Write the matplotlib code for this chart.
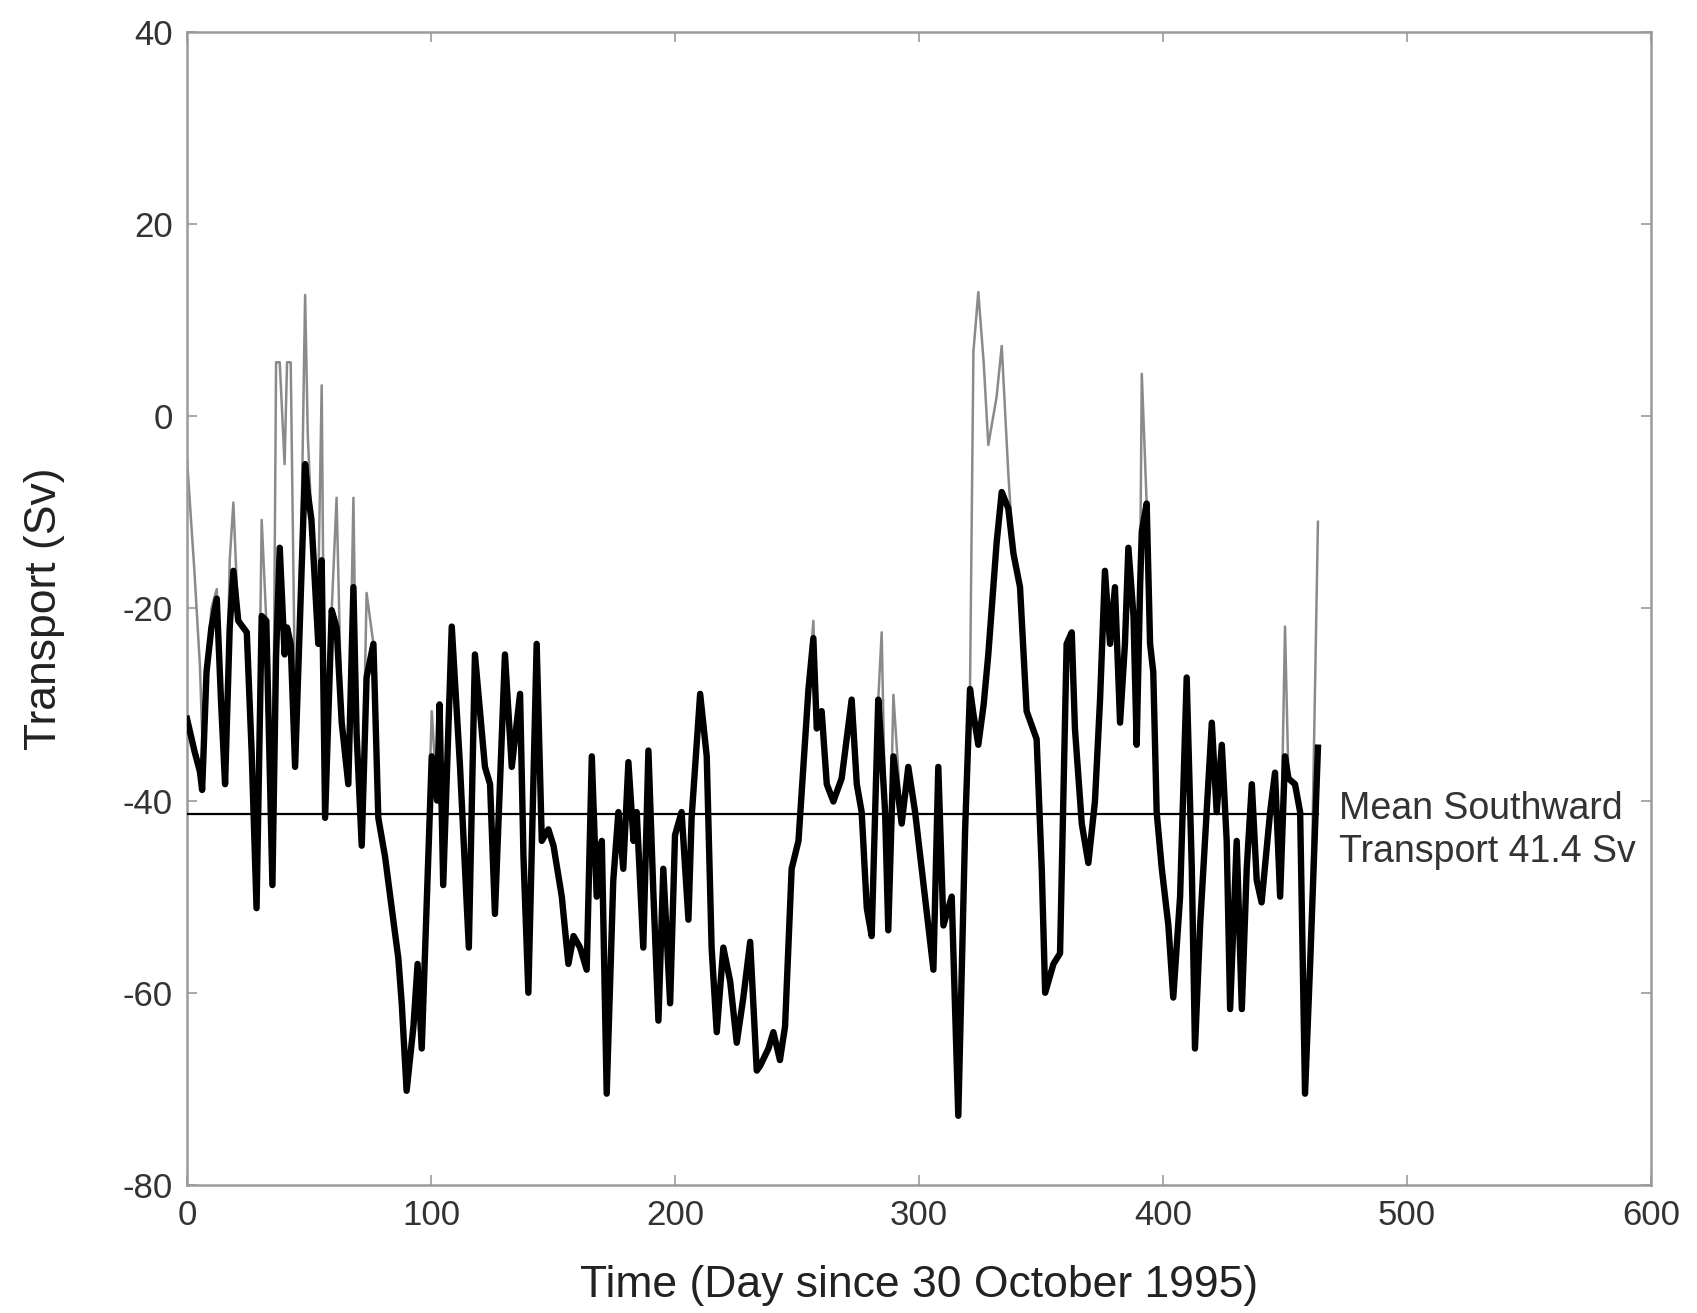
import matplotlib
matplotlib.use("Agg")
import matplotlib.pyplot as plt

plt.rcParams['font.family'] = ['Liberation Sans', 'DejaVu Sans']
plt.rcParams['axes.unicode_minus'] = False

# day since 30 October 1995
days = [
    0, 3, 5.3, 6.2, 8, 10, 12.2, 14, 15.6, 17.5,
    19, 21, 24.5, 26.5, 28.5, 30.6, 32.5, 35, 36.5, 38,
    40, 41, 42.5, 44.3, 46.3, 48.4, 49.5, 51, 53.8, 55.2,
    56.6, 59.3, 61.3, 63.4, 66.1, 68.2, 69.5, 71.6, 73.6, 76.4,
    78.4, 81.2, 83.9, 86.6, 88, 90, 92.8, 94.5, 96.2, 100.3,
    102.5, 103.5, 105, 108.5, 111.9, 115.5, 118, 122.1, 124.2, 126.2,
    130.3, 133.1, 136.5, 137.9, 139.9, 143.3, 145.4, 148.1, 150.2, 153.6,
    156.3, 158.4, 161.1, 163.8, 165.9, 167.9, 170, 172, 174.7, 176.8,
    178.8, 180.9, 183, 184.3, 187, 189.1, 191.1, 193.2, 195.2, 198,
    200, 202.7, 205.5, 206.8, 210.3, 213, 215, 217.1, 219.8, 222.6,
    225.3, 228, 230.8, 233.5, 234.9, 238.3, 240.3, 243, 245.1, 247.8,
    250.6, 252.6, 254.7, 256.7, 258.1, 260.1, 262.2, 264.9, 268.3, 272.4,
    274.5, 276.5, 278.6, 280.6, 283.3, 284.7, 286.1, 287.4, 289.5, 292.9,
    295.6, 298.4, 301.1, 303.8, 305.9, 307.9, 310, 313.4, 316.1, 318.9,
    320.9, 322.3, 324.3, 326.5, 328.4, 331.8, 333.9, 336.6, 338.7, 341.4,
    344.1, 348.2, 350.3, 351.7, 355.1, 357.8, 360.5, 362.6, 363.9, 366.7,
    369.4, 372.1, 374.2, 376.2, 378.3, 380.3, 382.4, 384.4, 385.8, 387.9,
    389.2, 390.6, 391.3, 393.3, 394.7, 396, 397.4, 399.5, 402.2, 404.2,
    407, 409.7, 411.8, 413.1, 415.2, 417.9, 420, 422, 424.1, 426.1,
    427.5, 430.2, 432.3, 434.3, 436.4, 438.4, 440.4, 443.9, 445.9, 448,
    450, 451.4, 454.1, 456.2, 458.2, 460.3, 463.5,
]

# filtered transport (Sv), thick black curve
transport_filtered = [
    -31.5, -34.8, -37, -38.9, -26.6, -22, -19, -30, -38.3, -22,
    -16.1, -21.3, -22.5, -35, -51.2, -20.8, -21.3, -48.8, -25, -13.7,
    -24.8, -22, -23.7, -36.5, -21.3, -5, -8, -10.8, -23.7, -15,
    -41.8, -20.2, -22, -31.9, -38.3, -17.8, -33, -44.7, -27.2, -23.7,
    -41.8, -45.9, -51.2, -56.4, -61.1, -70.2, -63.5, -57, -65.8, -35.4,
    -40, -30, -48.8, -21.9, -36.5, -55.3, -24.8, -36.5, -38.3, -51.8,
    -24.8, -36.5, -28.9, -45.9, -60, -23.7, -44.2, -43, -44.7, -50,
    -57, -54.1, -55.3, -57.6, -35.4, -50, -44.2, -70.5, -48.3, -41.2,
    -47.1, -36, -44.2, -41.2, -55.3, -34.8, -49.4, -62.9, -47.1, -61.1,
    -43.6, -41.2, -52.4, -41.8, -28.9, -35.4, -55.3, -64.1, -55.3, -58.8,
    -65.2, -60.5, -54.7, -68.1, -67.6, -65.8, -64.1, -67, -63.5, -47.1,
    -44.2, -36.5, -28.4, -23.1, -32.5, -30.7, -38.3, -40.1, -37.7, -29.5,
    -38.3, -41.2, -51.2, -54.1, -29.5, -35, -41.2, -53.5, -35.4, -42.4,
    -36.5, -41.2, -47.1, -53, -57.6, -36.5, -53, -50, -72.8, -43,
    -28.4, -31, -34.2, -30, -24.8, -13.2, -7.9, -9.6, -14.3, -17.8,
    -30.7, -33.6, -47.1, -60, -57, -55.9, -23.7, -22.5, -32.5, -42.4,
    -46.5, -40.1, -29.5, -16.1, -23.7, -17.8, -31.9, -23.7, -13.7, -20.8,
    -34.2, -17.8, -12, -9.1, -23.7, -26.6, -41.2, -47.1, -53, -60.5,
    -50, -27.2, -47.1, -65.8, -53, -41.2, -31.9, -41.2, -34.2, -44.2,
    -61.7, -44.2, -61.7, -47.1, -38.3, -48.3, -50.6, -41.2, -37.1, -50,
    -35.4, -37.7, -38.3, -41.2, -70.5, -57, -34.5,
]

# raw transport (Sv), thin grey curve
transport_raw = [
    -4.5, -16, -26, -33, -26.6, -20, -18, -30, -38.3, -15,
    -9, -21.3, -22.5, -35, -51.2, -10.8, -21.3, -48.8, 5.6, 5.6,
    -5, 5.6, 5.6, -30, -21.3, 12.6, -2, -10.8, -18, 3.2,
    -41.8, -20.2, -8.5, -31.9, -38.3, -8.5, -33, -44.7, -18.4, -23.7,
    -41.8, -45.9, -51.2, -56.4, -61.1, -70.2, -63.5, -57, -65.8, -30.7,
    -40, -30, -48.8, -21.9, -36.5, -55.3, -24.8, -36.5, -38.3, -51.8,
    -24.8, -36.5, -28.9, -45.9, -60, -23.7, -44.2, -43, -44.7, -50,
    -57, -54.1, -55.3, -57.6, -35.4, -50, -44.2, -70.5, -48.3, -41.2,
    -47.1, -36, -44.2, -41.2, -55.3, -34.8, -49.4, -62.9, -47.1, -61.1,
    -43.6, -41.2, -52.4, -41.8, -28.9, -35.4, -55.3, -64.1, -55.3, -58.8,
    -65.2, -60.5, -54.7, -68.1, -67.6, -65.8, -64.1, -67, -63.5, -47.1,
    -44.2, -36.5, -28.4, -21.3, -32.5, -30.7, -38.3, -40.1, -37.7, -29.5,
    -38.3, -41.2, -51.2, -54.1, -29.5, -22.5, -41.2, -53.5, -29, -42.4,
    -36.5, -41.2, -47.1, -53, -57.6, -36.5, -53, -50, -72.8, -43,
    -28.4, 6.7, 12.9, 5.6, -3, 2, 7.3, -6, -14.3, -17.8,
    -30.7, -33.6, -47.1, -60, -57, -55.9, -23.7, -22.5, -32.5, -42.4,
    -46.5, -40.1, -29.5, -16.1, -23.7, -17.8, -31.9, -23.7, -13.7, -20.8,
    -34.2, -17.8, 4.4, -9.1, -23.7, -26.6, -41.2, -47.1, -53, -60.5,
    -50, -27.2, -47.1, -65.8, -53, -41.2, -31.9, -41.2, -34.2, -44.2,
    -61.7, -44.2, -61.7, -47.1, -38.3, -48.3, -50.6, -41.2, -37.1, -50,
    -21.9, -37.7, -38.3, -41.2, -70.5, -57, -11,
]

mean_transport = -41.4

fig = plt.figure(figsize=(16.97, 13.13), dpi=100)
ax = fig.add_axes([0.1102, 0.0975, 0.8627, 0.8784])

ax.plot(days, transport_raw, color='#8a8a8a', lw=1.8, zorder=2)
ax.plot(days, transport_filtered, color='black', lw=4.6, zorder=3,
        solid_joinstyle='round')
ax.plot([days[0], days[-1]], [mean_transport, mean_transport],
        color='black', lw=1.6, zorder=4)

ax.text(472, -43.1, 'Mean Southward\nTransport %.1f Sv' % abs(mean_transport),
        fontsize=27, color='#333333', va='center', ha='left', linespacing=1.25)

ax.set_xlim(0, 600)
ax.set_ylim(-80, 40)
ax.set_xticks(range(0, 601, 100))
ax.set_yticks(range(-80, 41, 20))

for s in ax.spines.values():
    s.set_color('#9a9a9a')
    s.set_linewidth(1.8)

ax.tick_params(direction='in', length=7, width=1.2, color='#9a9a9a',
               top=True, right=True, labelsize=25, labelcolor='#333333', pad=10)

ax.set_xlabel('Time (Day since 30 October 1995)', fontsize=32, color='#222222')
ax.set_ylabel('Transport (Sv)', fontsize=32, color='#222222')
ax.xaxis.set_label_coords(0.5, -0.069)
ax.yaxis.set_label_coords(-0.083, 0.5)

fig.savefig('out.png', dpi=100)
